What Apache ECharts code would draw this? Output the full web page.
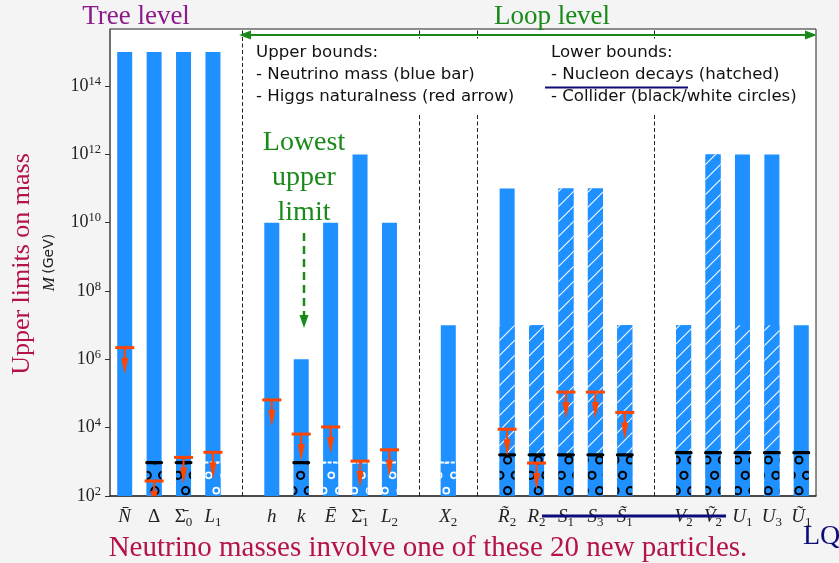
<!DOCTYPE html>
<html>
<head>
<meta charset="utf-8">
<script src="https://cdn.jsdelivr.net/npm/echarts@6/dist/echarts.min.js"></script>
<style>
  html, body { margin: 0; padding: 0; background: #f4f4f4; }
  #chart { width: 839px; height: 563px; }
</style>
</head>
<body>
<div id="chart"></div>
<script>
// New particles; '' marks an empty slot between groups, '_x' is a subscript
const categories = ['N\u0304', 'Δ', 'Σ\u0304_0', 'L_1', '', 'h', 'k', 'E\u0304', 'Σ\u0304_1', 'L_2', '', 'X_2', '',
  'R\u0303_2', 'R_2', 'S_1', 'S_3', 'S\u0303_1', '', 'V_2', 'V\u0303_2', 'U_1', 'U_3', 'U\u0303_1'];

// Upper bound on M (GeV) from neutrino masses
const neutrinoUpper = [1e15, 1e15, 1e15, 1e15, null, 1e10, 1e6, 1e10, 1e12, 1e10, null, 1e7, null,
  1e11, 1e7, 1e11, 1e11, 1e7, null, 1e7, 1e12, 1e12, 1e12, 1e7];

// Lower bound on M (GeV) from nucleon decays
const nucleonLower = [null, null, null, null, null, null, null, null, null, null, null, null, null,
  1e7, 1e7, 1e11, 1e11, 1e7, null, 1e7, 1e12, 1e7, 1e7, null];

// Lower bounds on M (GeV) from collider searches
const colliderBlack = [null, 950, 950, null, null, null, 950, null, null, null, null, null, null,
  1600, 1600, 1600, 1600, 1600, null, 1850, 1850, 1850, 1850, 1850];
const colliderWhite = [null, null, null, 950, null, null, null, 950, 950, 950, null, 950, null,
  null, null, null, null, null, null, null, null, null, null, null];

// Upper bound on M (GeV) from Higgs naturalness
const higgsUpper = [2.2e6, 275, 1350, 1900, null, 6.5e4, 6.5e3, 1.05e4, 1050, 2250, null, null, null,
  9000, 920, 1.1e5, 1.1e5, 2.8e4, null, null, null, null, null, null];

// Decades labelled on the mass axis
const yTickExponents = [2, 4, 6, 8, 10, 12, 14];

const BLUE = '#1E90FF';
const RED = '#FF4500';
const GREEN = '#198a19';
const CRIMSON = '#b5124a';
const NAVY = '#0c0c78';
const SERIF = '"Liberation Serif", "DejaVu Serif", serif';
const SANS = '"DejaVu Sans", "Liberation Sans", sans-serif';

// diagonal white hatch on blue
function hatchPattern() {
  const s = 15;
  const c = document.createElement('canvas');
  c.width = s; c.height = s;
  const g = c.getContext('2d');
  g.fillStyle = BLUE; g.fillRect(0, 0, s, s);
  g.strokeStyle = '#ffffff'; g.lineWidth = 1.1;
  for (const k of [-s, 0, s]) {
    g.beginPath(); g.moveTo(k, s); g.lineTo(k + s, 0); g.stroke();
  }
  return c;
}

// staggered rings on blue: square lattice, every other row shifted by half a step
function circlePattern(stroke, r, lw) {
  const W = 46, H = 92;          // 3 x 6 cells
  const step = W / 3;
  const c = document.createElement('canvas');
  c.width = W; c.height = H;
  const g = c.getContext('2d');
  g.fillStyle = BLUE; g.fillRect(0, 0, W, H);
  g.strokeStyle = stroke; g.lineWidth = lw;
  for (let row = 0; row < 6; row++) {
    const y = row * step;
    const x0 = row % 2 === 0 ? 1.6 : 1.6 + step / 2;
    for (let col = 0; col < 3; col++) {
      const x = x0 + col * step;
      for (const ox of [-W, 0, W]) {
        for (const oy of [-H, 0, H]) {
          g.beginPath(); g.arc(x + ox, y + oy, r, 0, Math.PI * 2); g.stroke();
        }
      }
    }
  }
  return c;
}

const toPoints = arr => arr.map((v, i) => v == null ? null : [i, v]).filter(p => p);
const gapIndices = categories.map((c, i) => c === '' ? i : -1).filter(i => i >= 0);

const chart = echarts.init(document.getElementById('chart'), null, { renderer: 'canvas' });

const BAR_W = 15;

const option = {
  backgroundColor: '#f4f4f4',
  animation: false,
  grid: {
    left: 110, right: 23, top: 29, bottom: 67,
    show: true, backgroundColor: '#ffffff', borderColor: '#222', borderWidth: 1
  },
  xAxis: {
    type: 'category',
    data: categories,
    axisTick: { show: false },
    axisLine: { lineStyle: { color: '#333', width: 1.5 } },
    axisLabel: {
      interval: 0,
      margin: 9,
      formatter: function (v) {
        if (!v) return '';
        const parts = v.split('_');
        const style = /[ΔΣ]/.test(parts[0]) ? 'g' : 'i';
        return '{' + style + '|' + parts[0] + '}' + (parts[1] ? '{s|' + parts[1] + '}' : '');
      },
      rich: {
        i: { fontFamily: SERIF, fontStyle: 'italic', fontSize: 19, color: '#222', lineHeight: 24 },
        g: { fontFamily: SERIF, fontSize: 19, color: '#222', lineHeight: 24 },
        s: { fontFamily: SERIF, fontSize: 13, color: '#222', lineHeight: 13, verticalAlign: 'bottom' }
      }
    }
  },
  yAxis: {
    type: 'log',
    // one step of the scale = two decades
    logBase: 100,
    min: 100,
    max: Math.pow(10, 15.67),
    splitLine: { show: false },
    axisLine: { show: true, lineStyle: { color: '#666', width: 1.5 } },
    axisTick: { show: true, inside: false, length: 5, lineStyle: { color: '#333' } },
    axisLabel: {
      margin: 9,
      showMaxLabel: false,
      formatter: function (v) {
        const e = Math.log10(v);
        const r = Math.round(e);
        if (Math.abs(e - r) > 1e-6 || yTickExponents.indexOf(r) < 0) return '';
        return '{b|10}{e|' + r + '}';
      },
      rich: {
        b: { fontFamily: SERIF, fontSize: 18, color: '#222', lineHeight: 22 },
        e: { fontFamily: SERIF, fontSize: 12.5, color: '#222', lineHeight: 12, verticalAlign: 'top' }
      }
    },
    name: '{m|M} {g|(GeV)}',
    nameLocation: 'middle',
    nameRotate: 90,
    nameGap: 52,
    nameTextStyle: {
      rich: {
        m: { fontFamily: SERIF, fontStyle: 'italic', fontSize: 17, color: '#222' },
        g: { fontFamily: SANS, fontSize: 14, color: '#222' }
      }
    }
  },
  series: [
    {
      name: 'Neutrino mass',
      type: 'bar',
      z: 2,
      data: neutrinoUpper,
      barWidth: BAR_W,
      barGap: '-100%',
      itemStyle: { color: BLUE },
      markLine: {
        silent: true,
        symbol: 'none',
        label: { show: false },
        lineStyle: { color: '#222', type: [4, 2.5], width: 1 },
        data: gapIndices.map(i => ({ xAxis: i }))
      }
    },
    {
      name: 'Nucleon decays',
      type: 'bar',
      z: 3,
      data: nucleonLower,
      barWidth: BAR_W,
      barGap: '-100%',
      itemStyle: { color: { image: hatchPattern(), repeat: 'repeat' } }
    },
    {
      name: 'Collider (black)',
      type: 'bar',
      z: 4,
      data: colliderBlack,
      barWidth: BAR_W,
      barGap: '-100%',
      itemStyle: { color: { image: circlePattern('#000', 3.6, 2.0), repeat: 'repeat' } }
    },
    {
      name: 'Collider (white)',
      type: 'bar',
      z: 4,
      data: colliderWhite,
      barWidth: BAR_W,
      barGap: '-100%',
      itemStyle: { color: { image: circlePattern('#fff', 3.0, 1.7), repeat: 'repeat' } }
    },
    {
      name: 'Collider edge (black)',
      type: 'custom',
      z: 10,
      clip: true,
      data: toPoints(colliderBlack),
      encode: { x: 0, y: 1 },
      renderItem: function (params, api) {
        const p = api.coord([api.value(0), api.value(1)]);
        return {
          type: 'rect',
          shape: { x: p[0] - 9, y: p[1] - 1.6, width: 18, height: 3.2, r: 1.6 },
          style: { fill: '#000' }
        };
      }
    },
    {
      name: 'Collider edge (white)',
      type: 'custom',
      z: 10,
      clip: true,
      data: toPoints(colliderWhite),
      encode: { x: 0, y: 1 },
      renderItem: function (params, api) {
        const p = api.coord([api.value(0), api.value(1)]);
        return {
          type: 'line',
          shape: { x1: p[0] - 8.5, y1: p[1], x2: p[0] + 8.5, y2: p[1] },
          style: { stroke: '#fff', lineWidth: 2, lineDash: [4, 1.5] }
        };
      }
    },
    {
      name: 'Higgs naturalness',
      type: 'custom',
      z: 12,
      clip: true,
      data: toPoints(higgsUpper),
      encode: { x: 0, y: 1 },
      renderItem: function (params, api) {
        const p = api.coord([api.value(0), api.value(1)]);
        const x = p[0], y = p[1];
        return {
          type: 'group',
          children: [
            { type: 'rect', shape: { x: x - 9.5, y: y - 1.5, width: 19, height: 3 }, style: { fill: RED } },
            { type: 'line', shape: { x1: x, y1: y, x2: x, y2: y + 12 }, style: { stroke: RED, lineWidth: 2 } },
            { type: 'polygon', shape: { points: [[x - 3.5, y + 10], [x + 3.5, y + 10], [x, y + 26.5]] }, style: { fill: RED } }
          ]
        };
      }
    }
  ],
  graphic: [
    { type: 'text', x: 136, y: 17, z: 100,
      style: { text: 'Tree level', fill: '#8b1a8a', font: '27px ' + SERIF, align: 'center', verticalAlign: 'middle' } },
    { type: 'text', x: 552, y: 17, z: 100,
      style: { text: 'Loop level', fill: GREEN, font: '27px ' + SERIF, align: 'center', verticalAlign: 'middle' } },
    { type: 'line', z: 100, shape: { x1: 249, y1: 35, x2: 807, y2: 35 }, style: { stroke: GREEN, lineWidth: 2 } },
    { type: 'polygon', z: 100, shape: { points: [[239, 35], [251, 30.5], [251, 39.5]] }, style: { fill: GREEN } },
    { type: 'polygon', z: 100, shape: { points: [[817, 35], [805, 30.5], [805, 39.5]] }, style: { fill: GREEN } },

    { type: 'rect', z: 50, shape: { x: 250, y: 38.5, width: 562, height: 75 }, style: { fill: '#ffffff' } },
    { type: 'text', x: 256, y: 52.5, z: 100, style: { text: 'Upper bounds:', fill: '#111', font: '16.6px ' + SANS, verticalAlign: 'middle' } },
    { type: 'text', x: 256, y: 74.5, z: 100, style: { text: '- Neutrino mass (blue bar)', fill: '#111', font: '16.6px ' + SANS, verticalAlign: 'middle' } },
    { type: 'text', x: 256, y: 96.5, z: 100, style: { text: '- Higgs naturalness (red arrow)', fill: '#111', font: '16.6px ' + SANS, verticalAlign: 'middle' } },
    { type: 'text', x: 551, y: 52.5, z: 100, style: { text: 'Lower bounds:', fill: '#111', font: '16.6px ' + SANS, verticalAlign: 'middle' } },
    { type: 'text', x: 551, y: 74.5, z: 100, style: { text: '- Nucleon decays (hatched)', fill: '#111', font: '16.6px ' + SANS, verticalAlign: 'middle' } },
    { type: 'text', x: 551, y: 96.5, z: 100, style: { text: '- Collider (black/white circles)', fill: '#111', font: '16.6px ' + SANS, verticalAlign: 'middle' } },
    { type: 'line', z: 110, shape: { x1: 545, y1: 87.5, x2: 688, y2: 87.5 }, style: { stroke: NAVY, lineWidth: 2 } },

    { type: 'text', x: 304, y: 142.5, z: 100, style: { text: 'Lowest', fill: GREEN, font: '28px ' + SERIF, align: 'center', verticalAlign: 'middle' } },
    { type: 'text', x: 304, y: 177.5, z: 100, style: { text: 'upper', fill: GREEN, font: '28px ' + SERIF, align: 'center', verticalAlign: 'middle' } },
    { type: 'text', x: 304, y: 212.5, z: 100, style: { text: 'limit', fill: GREEN, font: '28px ' + SERIF, align: 'center', verticalAlign: 'middle' } },
    { type: 'line', z: 100, shape: { x1: 304, y1: 233, x2: 304, y2: 316 }, style: { stroke: GREEN, lineWidth: 2.5, lineDash: [8, 5] } },
    { type: 'polygon', z: 100, shape: { points: [[299.5, 315], [308.5, 315], [304, 328]] }, style: { fill: GREEN } },

    { type: 'text', x: 22, y: 264, rotation: Math.PI / 2, z: 100,
      style: { text: 'Upper limits on mass', fill: CRIMSON, font: '26px ' + SERIF, align: 'center', verticalAlign: 'middle' } },
    { type: 'text', x: 428, y: 548, z: 100,
      style: { text: 'Neutrino masses involve one of these 20 new particles.', fill: CRIMSON, font: '29px ' + SERIF, align: 'center', verticalAlign: 'middle' } },
    { type: 'line', z: 110, shape: { x1: 542, y1: 516, x2: 726, y2: 516 }, style: { stroke: NAVY, lineWidth: 3 } },
    { type: 'text', x: 803, y: 537, z: 100, style: { text: 'LQ', fill: NAVY, font: '28px ' + SERIF, verticalAlign: 'middle' } }
  ]
};

chart.setOption(option);
</script>
</body>
</html>
